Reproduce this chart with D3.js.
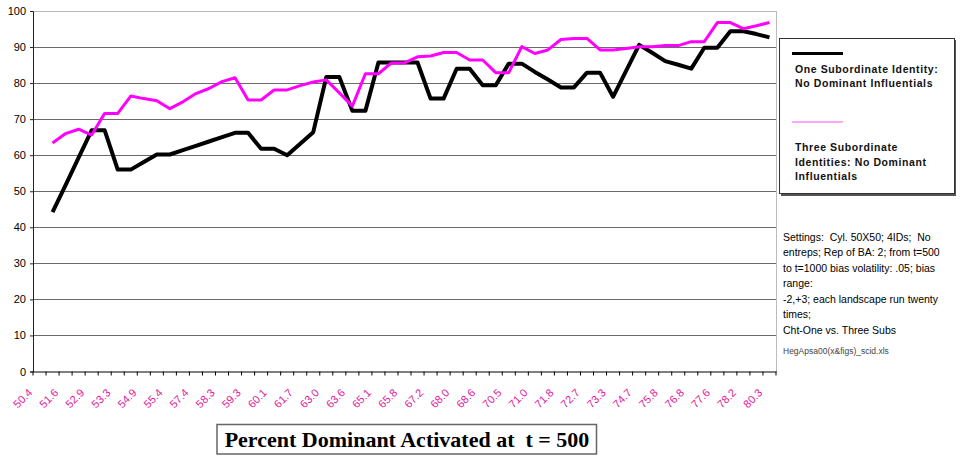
<!DOCTYPE html>
<html><head><meta charset="utf-8">
<script src="https://cdn.jsdelivr.net/npm/d3@7"></script>
<style>body{margin:0;background:#fff;} svg{display:block;} text{white-space:pre;}</style>
</head><body>
<svg id="c" width="965" height="466"></svg>
<script>
// ---- data ----
const tickLabels = ["50.4","51.6","52.9","53.3","54.9","55.4","57.4","58.3","59.3","60.1","61.7","63.0","63.6","65.1","65.8","67.2","68.0","68.6","70.5","71.0","71.8","72.7","73.3","74.7","75.8","76.8","77.6","78.2","80.3"];
const oneSub = [null,44.2,51.7,59.3,66.9,66.9,56.0,56.0,58.1,60.2,60.2,61.4,62.6,63.8,65.0,66.2,66.2,61.8,61.8,60.0,63.2,66.4,81.7,81.7,72.3,72.3,85.7,85.7,85.7,85.7,75.7,75.7,84.0,84.0,79.4,79.4,85.4,85.4,83.1,81.0,78.8,78.8,82.9,82.9,76.2,83.4,90.6,88.4,86.1,85.1,84.0,89.8,89.8,94.4,94.4,93.6,92.7];
const threeSub = [null,63.4,66.0,67.2,65.6,71.6,71.6,76.4,75.7,75.1,72.9,74.8,77.1,78.5,80.4,81.5,75.3,75.3,78.1,78.1,79.3,80.3,80.9,77.3,73.6,82.6,82.6,85.6,85.6,87.3,87.5,88.5,88.5,86.4,86.4,82.9,82.9,90.1,88.2,89.2,92.1,92.4,92.4,89.2,89.2,89.6,90.1,90.1,90.4,90.4,91.5,91.5,96.8,96.8,95.1,95.9,96.8];
const yTicks = [0,10,20,30,40,50,60,70,80,90,100];
const legendNames = [["One Subordinate Identity:","No Dominant Influentials"],["Three Subordinate","Identities: No Dominant","Influentials"]];
const settingsLines = ["Settings:  Cyl. 50X50; 4IDs;  No","entreps; Rep of BA: 2; from t=500","to t=1000 bias volatility: .05; bias","range:","-2,+3; each landscape run twenty","times;","Cht-One vs. Three Subs"];
const fileName = "HegApsa00(x&figs)_scid.xls";
const titleText = "Percent Dominant Activated at  t = 500";

// ---- layout ----
const svg = d3.select("#c");
const L = 33, R = 776, T = 11, B = 371.5;
const x = d3.scaleBand().domain(d3.range(oneSub.length)).range([L, R]).paddingInner(0).paddingOuter(0);
const y = d3.scaleLinear().domain([0, 100]).range([B, T]);
const cx = i => x(i) + x.bandwidth() / 2;

// grid lines
svg.append("g").selectAll("line").data(yTicks.filter(d => d > 0)).join("line")
  .attr("x1", L).attr("x2", R).attr("y1", d => y(d)).attr("y2", d => y(d))
  .attr("stroke", d => d === 100 ? "#bbb" : "#6a6a6a").attr("stroke-width", 1).attr("shape-rendering", "crispEdges");
// right border
svg.append("line").attr("x1", R).attr("x2", R).attr("y1", T).attr("y2", B)
  .attr("stroke", "#bbb").attr("shape-rendering", "crispEdges");

// y axis
const yAxis = d3.axisLeft(y).tickValues(yTicks).tickSize(3).tickPadding(4);
const gy = svg.append("g").attr("transform", `translate(${L},0)`).call(yAxis);
gy.select(".domain").attr("stroke", "#222");
gy.selectAll(".tick line").attr("stroke", "#222");
gy.selectAll("text").attr("font-family", "Liberation Sans, Arial, sans-serif").attr("font-size", 11).attr("fill", "#000");

// x axis
const xAxis = d3.axisBottom(x).tickValues([]).tickSizeOuter(0);
const gx = svg.append("g").attr("transform", `translate(0,${B})`).call(xAxis);
gx.select(".domain").attr("stroke", "#000");
gx.selectAll(".xt").data(d3.range(oneSub.length + 1)).join("line")
  .attr("x1", i => L + i * x.bandwidth()).attr("x2", i => L + i * x.bandwidth())
  .attr("y1", 0).attr("y2", 4).attr("stroke", "#000");
gx.selectAll(".xl").data(tickLabels).join("text")
  .attr("transform", (d, k) => `translate(${x(2 * k)},${22}) rotate(-45)`)
  .attr("text-anchor", "end")
  .attr("font-family", "Liberation Sans, Arial, sans-serif").attr("font-size", 11)
  .attr("fill", "#E0179B").text(d => d);

// lines
const line = d3.line().defined(d => d != null).x((d, i) => cx(i)).y(d => y(d));
svg.append("path").datum(oneSub).attr("d", line).attr("fill", "none")
  .attr("stroke", "#000").attr("stroke-width", 4).attr("stroke-linejoin", "round");
svg.append("path").datum(threeSub).attr("d", line).attr("fill", "none")
  .attr("stroke", "#FF00FF").attr("stroke-width", 3).attr("stroke-linejoin", "round");

// legend
const lg = svg.append("g");
lg.append("rect").attr("x", 781).attr("y", 40).attr("width", 175).attr("height", 156).attr("fill", "#555");
lg.append("rect").attr("x", 779.5).attr("y", 38.5).attr("width", 175).attr("height", 155).attr("fill", "#fff").attr("stroke", "#333").attr("stroke-width", 1);
lg.append("line").attr("x1", 792).attr("x2", 843).attr("y1", 53.5).attr("y2", 53.5).attr("stroke", "#000").attr("stroke-width", 3);
lg.append("line").attr("x1", 792).attr("x2", 843).attr("y1", 122).attr("y2", 122).attr("stroke", "#FF88FF").attr("stroke-width", 1.5);
const legY = [[72.5, 87], [151, 165.5, 180]];
legendNames.forEach((lines, s) => {
  lg.selectAll(null).data(lines).join("text")
    .attr("x", 795).attr("y", (d, j) => legY[s][j])
    .attr("font-family", "Liberation Sans, Arial, sans-serif").attr("font-size", 10.5).attr("font-weight", "bold")
    .attr("letter-spacing", 0.6).attr("fill", "#111").text(d => d);
});

// settings note
const st = svg.append("g");
st.selectAll("text").data(settingsLines).join("text")
  .attr("x", 783).attr("y", (d, j) => 241 + j * 15.45)
  .attr("font-family", "Liberation Sans, Arial, sans-serif").attr("font-size", 10.5).attr("fill", "#000").text(d => d);
st.append("text").attr("x", 783).attr("y", 353.5)
  .attr("font-family", "Liberation Sans, Arial, sans-serif").attr("font-size", 8.5).attr("fill", "#444").text(fileName);

// title
const tg = svg.append("g");
tg.append("rect").attr("x", 217).attr("y", 424.5).attr("width", 379.5).attr("height", 29.5)
  .attr("fill", "#fff").attr("stroke", "#666").attr("stroke-width", 1.5);
tg.append("text").attr("x", 407).attr("y", 447).attr("text-anchor", "middle")
  .attr("font-family", "Liberation Serif, Times New Roman, serif").attr("font-size", 22).attr("font-weight", "bold")
  .attr("fill", "#000").text(titleText);
</script>
</body></html>
